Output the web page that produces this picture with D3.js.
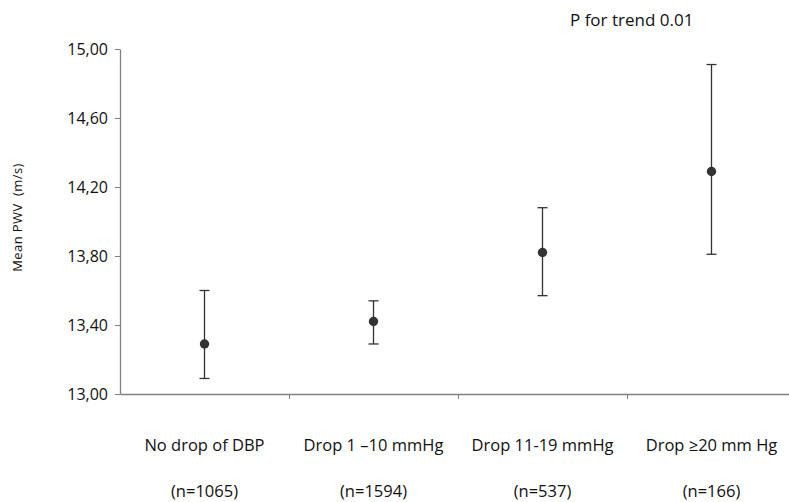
<!DOCTYPE html>
<html>
<head>
<meta charset="utf-8">
<script src="https://cdn.jsdelivr.net/npm/d3@7"></script>
<style>
  body { margin: 0; background: #fff; }
  svg text { font-family: "Open Sans", "DejaVu Sans", sans-serif; fill: #111; }
</style>
</head>
<body>
<div id="chart"></div>
<script>
// --- DATA ---
var categories = ["No drop of DBP", "Drop 1 \u201310 mmHg", "Drop 11-19 mmHg", "Drop \u226520 mm Hg"];
var counts = ["(n=1065)", "(n=1594)", "(n=537)", "(n=166)"];
var means = [13.29, 13.42, 13.82, 14.29];
var lower = [13.09, 13.29, 13.57, 13.81];
var upper = [13.60, 13.54, 14.08, 14.91];
var yTicks = [13.0, 13.4, 13.8, 14.2, 14.6, 15.0];

// --- SETUP ---
var width = 789, height = 502;
var margin = { left: 120, top: 49, bottom: 108 };
var bandW = 169;

var svg = d3.select("#chart").append("svg")
  .attr("width", width)
  .attr("height", height);

var x = d3.scaleBand()
  .domain(categories)
  .range([margin.left, margin.left + bandW * categories.length]);

var y = d3.scaleLinear()
  .domain([13, 15])
  .range([height - margin.bottom, margin.top]);

var axisColor = "#7f7f7f";

// --- Y AXIS ---
var yAxis = svg.append("g")
  .attr("transform", "translate(" + margin.left + ",0)")
  .call(d3.axisLeft(y).tickValues(yTicks).tickSize(5).tickSizeOuter(0)
    .tickFormat(d => d3.format(".2f")(d).replace(".", ",")));
yAxis.select(".domain").attr("stroke", axisColor).attr("stroke-width", 1.3);
yAxis.selectAll(".tick line").attr("stroke", axisColor);
yAxis.selectAll(".tick text")
  .attr("x", -12)
  .style("font-size", "16px")
  .attr("fill", "#111");

// --- X AXIS ---
var xAxis = svg.append("g")
  .attr("transform", "translate(0," + y(13) + ")")
  .call(d3.axisBottom(x).tickSize(0).tickSizeOuter(0).tickFormat(""));
xAxis.select(".domain").attr("stroke", axisColor).attr("stroke-width", 1.5);

// boundary ticks between categories
svg.selectAll(".sep")
  .data(categories.slice(1))
  .enter().append("line")
  .attr("class", "sep")
  .attr("x1", d => x(d) + 0.5).attr("x2", d => x(d) + 0.5)
  .attr("y1", y(13)).attr("y2", y(13) + 5)
  .attr("stroke", axisColor);

// category labels
svg.selectAll(".cat")
  .data(categories)
  .enter().append("text")
  .attr("class", "cat")
  .attr("x", d => x(d) + x.bandwidth() / 2)
  .attr("y", 451)
  .attr("text-anchor", "middle")
  .style("font-size", "16.5px")
  .text(d => d);

svg.selectAll(".cnt")
  .data(counts)
  .enter().append("text")
  .attr("class", "cnt")
  .attr("x", (d, i) => x(categories[i]) + x.bandwidth() / 2)
  .attr("y", 497)
  .attr("text-anchor", "middle")
  .style("font-size", "16.5px")
  .text(d => d);

// --- ERROR BARS ---
var g = svg.selectAll(".pt")
  .data(categories)
  .enter().append("g")
  .attr("class", "pt")
  .attr("transform", d => "translate(" + (x(d) + x.bandwidth() / 2) + ",0)");

g.append("line")
  .attr("y1", (d, i) => y(lower[i])).attr("y2", (d, i) => y(upper[i]))
  .attr("stroke", "#333").attr("stroke-width", 1.3);
g.append("line")
  .attr("x1", -5).attr("x2", 5)
  .attr("y1", (d, i) => y(upper[i])).attr("y2", (d, i) => y(upper[i]))
  .attr("stroke", "#333").attr("stroke-width", 1.3);
g.append("line")
  .attr("x1", -5).attr("x2", 5)
  .attr("y1", (d, i) => y(lower[i])).attr("y2", (d, i) => y(lower[i]))
  .attr("stroke", "#333").attr("stroke-width", 1.3);
g.append("circle")
  .attr("cy", (d, i) => y(means[i]))
  .attr("r", 4.7)
  .attr("fill", "#333");

// --- TEXTS ---
svg.append("text")
  .attr("transform", "translate(22," + ((y(13) + y(15)) / 2 - 4) + ") rotate(-90)")
  .attr("text-anchor", "middle")
  .style("font-size", "13px")
  .style("letter-spacing", "0.4px")
  .attr("xml:space", "preserve")
  .text("Mean PWV  (m/s)");

svg.append("text")
  .attr("x", 570)
  .attr("y", 26)
  .style("font-size", "17px")
  .text("P for trend 0.01");
</script>
</body>
</html>
